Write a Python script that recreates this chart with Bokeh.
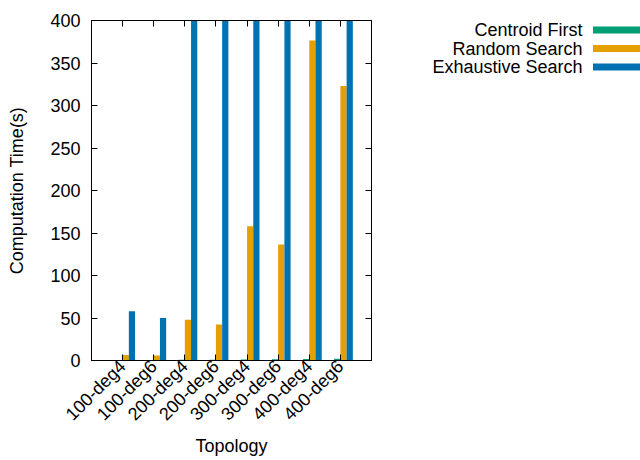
from bokeh.plotting import figure
from bokeh.models import Range1d, FixedTicker, LinearAxis, ColumnDataSource
from bokeh.layouts import row
from bokeh.transform import dodge
from bokeh.embed import file_html
from bokeh.resources import INLINE
from bokeh.core.properties import value
import math

topologies = ["100-deg4", "100-deg6", "200-deg4", "200-deg6",
              "300-deg4", "300-deg6", "400-deg4", "400-deg6"]
centroid_first = [0.5, 0.6, 0.9, 1.0, 1.3, 1.5, 1.8, 2.0]
random_search = [6.5, 5.8, 48, 42.4, 158, 136.5, 376.5, 323]
exhaustive_search = [58, 50, 900, 850, 2000, 1900, 3600, 3600]
series_names = ["Centroid First", "Random Search", "Exhaustive Search"]
series_colors = ["#009e73", "#e69f00", "#0072b2"]
y_ticks = [0, 50, 100, 150, 200, 250, 300, 350, 400]

FONT = "Liberation Sans"
FS = "18px"
H = 460
MW, LW = 380, 260
ML, MT, MR, MB = 91, 20, 9, 100
YMAX = 400

idx = list(range(len(topologies)))
src = ColumnDataSource(dict(x=idx, c=centroid_first, r=random_search, e=exhaustive_search))
yr = Range1d(0, YMAX)

p = figure(width=MW, height=H, x_range=Range1d(-1, 8), y_range=yr,
           output_backend="svg", toolbar_location=None,
           min_border_left=ML, min_border_right=MR, min_border_top=MT, min_border_bottom=MB)
p.xgrid.visible = False
p.ygrid.visible = False
p.outline_line_color = "black"
p.outline_line_width = 1
p.background_fill_color = "white"
p.border_fill_color = "white"

for key, off, col in zip(["c", "r", "e"], [-0.1, 0.1, 0.3], series_colors):
    p.vbar(x=dodge("x", off, range=p.x_range), top=key, width=0.2, source=src,
           fill_color=col, line_color=None)

xt = FixedTicker(ticks=idx)
yt = FixedTicker(ticks=y_ticks)

for ax in p.xaxis:
    ax.ticker = xt
    ax.major_label_overrides = {i: t for i, t in zip(idx, topologies)}
    ax.major_label_orientation = math.pi / 4
    ax.axis_label = "Topology"
    ax.major_label_standoff = 3
    ax.axis_label_standoff = 2
for ax in p.yaxis:
    ax.ticker = yt
    ax.axis_label = "Computation Time(s)"
    ax.major_label_standoff = 11
    ax.axis_label_standoff = 20

for ax in list(p.xaxis) + list(p.yaxis):
    ax.major_tick_in = 6
    ax.major_tick_out = 0
    ax.minor_tick_in = 0
    ax.minor_tick_out = 0
    ax.major_label_text_font = FONT
    ax.major_label_text_font_size = FS
    ax.major_label_text_color = "black"
    ax.axis_label_text_font = FONT
    ax.axis_label_text_font_size = FS
    ax.axis_label_text_font_style = "normal"
    ax.axis_label_text_color = "black"
    ax.axis_line_color = "black"
    ax.major_tick_line_color = "black"

top_ax = LinearAxis(ticker=xt, major_tick_in=6, major_tick_out=0, minor_tick_in=0, minor_tick_out=0,
                    major_label_overrides={i: "" for i in idx}, major_label_standoff=0,
                    axis_line_color="black", major_tick_line_color="black")
right_ax = LinearAxis(ticker=yt, major_tick_in=6, major_tick_out=0, minor_tick_in=0, minor_tick_out=0,
                      major_label_overrides={t: "" for t in y_ticks}, major_label_standoff=0,
                      axis_line_color="black", major_tick_line_color="black")
p.add_layout(top_ax, "above")
p.add_layout(right_ax, "right")

# key: its own panel to the right, sharing the vertical range (frames are aligned in a row)
FRAME_H = H - MT - MB
leg = figure(width=LW, height=H, x_range=Range1d(0, LW), y_range=yr,
             output_backend="svg", toolbar_location=None,
             x_axis_location=None, y_axis_location=None,
             min_border_left=0, min_border_right=0, min_border_top=MT, min_border_bottom=MB)
leg.xgrid.visible = False
leg.ygrid.visible = False
leg.outline_line_color = None
leg.background_fill_color = "white"
leg.border_fill_color = "white"
row_px = [9.5 + 18.5 * i for i in range(len(series_names))]          # below frame top
row_y = [YMAX - d * YMAX / FRAME_H for d in row_px]
leg.text(x=[202] * 3, y=row_y, text=series_names, text_align="right", text_baseline="middle",
         text_font=value(FONT), text_font_size=FS, text_color="black")
leg.rect(x=[212.5 + 25] * 3, y=row_y, width=50, height=7, width_units="screen",
         height_units="screen", fill_color=series_colors, line_color=None)

layout = row(p, leg)
open("out.html", "w").write(file_html(layout, INLINE))
